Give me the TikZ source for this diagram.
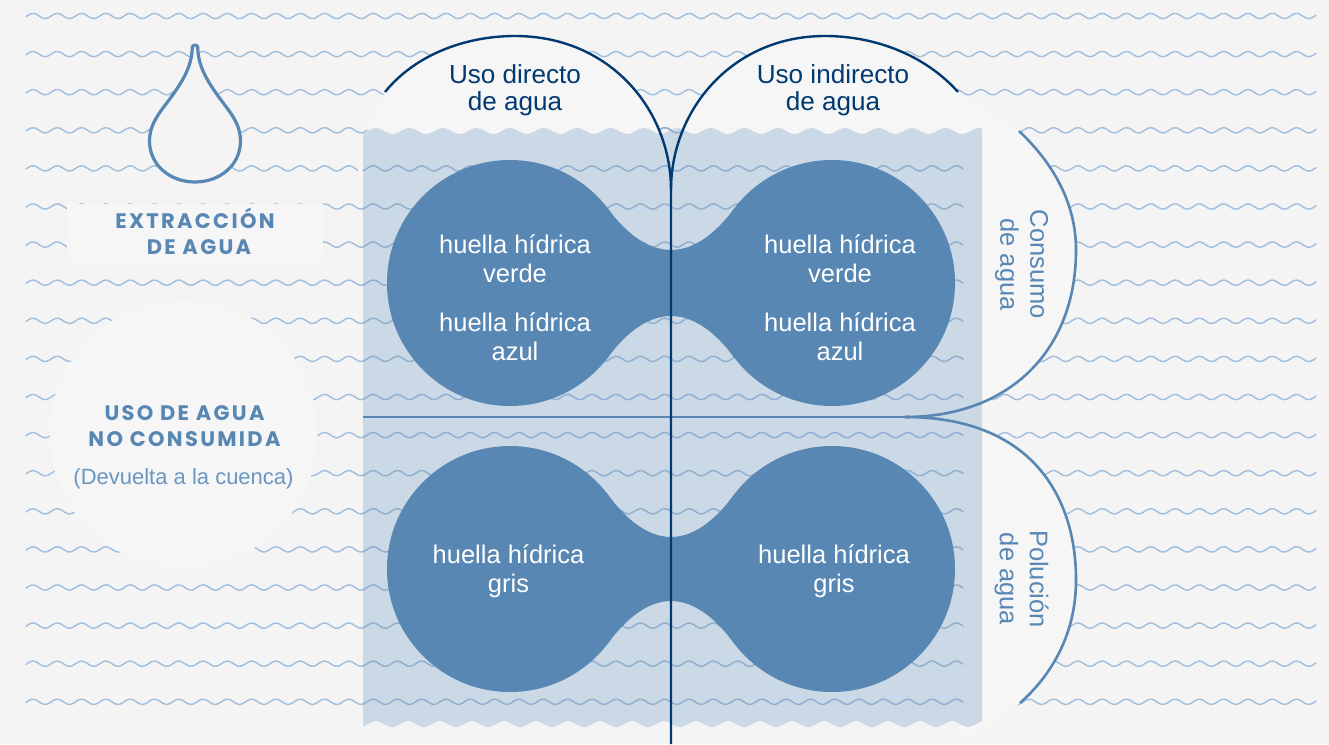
\documentclass[tikz,border=0pt]{standalone}
\usepackage{fontspec}
\setmainfont{Liberation Sans}
\newfontfamily\headfont[LetterSpace=11]{Poppins}
\definecolor{bgc}{HTML}{F4F4F4}
\definecolor{veil}{HTML}{F6F6F6}
\definecolor{wavec}{HTML}{A2BFDC}
\definecolor{wavein}{HTML}{8FB0D1}
\definecolor{pool}{HTML}{CBD8E5}
\definecolor{blob}{HTML}{5887B4}
\definecolor{navy}{HTML}{003A70}
\definecolor{soft}{HTML}{6A96C2}
\newcommand{\wavesrow}[4]{% color, y, from, to
  \draw[#1,line width=1.45pt,line cap=round] plot[domain=#3:#4,samples=\fpeval{round((#4-#3)/2)+2}]
    (\x,{#2-2.6*cos(14.815*(\x-664.8))});}
\newcommand{\dumbbell}[3]{% cy, neck half height, name
  \fill[blob] (510,#1) circle (123);
  \fill[blob] (832,#1) circle (123);
  \fill[blob] (606.9,#1-75.7) .. controls (623,#1-53.7) and (645,#1-#2) .. (671,#1-#2)
     .. controls (697,#1-#2) and (719,#1-53.7) .. (735.1,#1-75.7)
     -- (735.1,#1+75.7) .. controls (719,#1+53.7) and (697,#1+#2) .. (671,#1+#2)
     .. controls (645,#1+#2) and (623,#1+53.7) .. (606.9,#1+75.7) -- cycle;}
\tikzset{
  usotext/.style={text=navy,align=center,inner sep=0pt,font=\fontsize{26.1}{27}\selectfont},
  huella/.style={text=white,align=center,inner sep=0pt,font=\fontsize{25.5}{29.2}\selectfont},
  sidetext/.style={text=blob,align=center,inner sep=0pt,rotate=-90,font=\fontsize{25.5}{30}\selectfont},
  headtext/.style={text=blob,align=center,inner sep=0pt,font=\headfont\bfseries\fontsize{21}{26.5}\selectfont},
  subtext/.style={text=soft,inner sep=0pt,font=\fontsize{22}{26}\selectfont},
  archblue/.style={navy,line width=2.4pt},
  archlight/.style={blob,line width=2.6pt},
  crossline/.style={blob,line width=2pt}
}
\begin{document}
\begin{tikzpicture}[x=1pt,y=-1pt]
\useasboundingbox (0,0) rectangle (1329,744);
\fill[bgc] (0,0) rectangle (1329,744);
% background waves
\foreach \k in {0,...,18}{
  \pgfmathsetmacro\yy{16+38.1*\k}
  \wavesrow{wavec}{\yy}{26}{1316}
}
% veils hiding waves
\fill[veil] (358,150) -- (385,92) .. controls (415,55) and (465,36) .. (515,36)
   .. controls (610,36) and (671,110) .. (671,190) -- (358,190) -- cycle;
\fill[veil] (671,190) .. controls (671,110) and (732,36) .. (825,36)
   .. controls (875,36) and (925,55) .. (958,92) -- (1019,131) -- (1019,190) -- cycle;
\fill[veil] (960,125) -- (1019,131) .. controls (1055,165) and (1076,205) .. (1076,250)
   .. controls (1076,350) and (1010,417) .. (905,417)
   .. controls (1030,417) and (1076,495) .. (1076,580)
   .. controls (1076,630) and (1055,672) .. (1020,703) -- (975,735) -- (960,735) -- cycle;
\fill[veil] (183.5,434) circle (134);
\fill[veil] (67,204) rectangle (323,262);
% pool with wavy top and bottom
\fill[pool] plot[domain=363:982,samples=200] (\x,{131-3*cos(10.746*(\x-577))})
   -- plot[domain=982:363,samples=200] (\x,{724-3*cos(11.25*(\x-888))}) -- cycle;
% waves inside the pool
\foreach \k in {4,...,18}{
  \pgfmathsetmacro\yy{16+38.1*\k}
  \wavesrow{wavein}{\yy}{363}{963}
}
\pgfmathsetmacro\yy{16+38.1*3}
\wavesrow{wavein}{\yy}{661}{681}
% blobs
\dumbbell{283}{33}{top}
\dumbbell{569}{32}{bottom}
% lines
\draw[crossline] (363,417) -- (905,417);
\draw[archlight] (1019,131) .. controls (1055,165) and (1076,205) .. (1076,250)
   .. controls (1076,350) and (1010,417) .. (905,417);
\draw[archlight] (905,417) .. controls (1030,417) and (1076,495) .. (1076,580)
   .. controls (1076,630) and (1055,672) .. (1020,703);
\draw[archblue] (385,92) .. controls (415,55) and (465,36) .. (515,36)
   .. controls (610,36) and (671,110) .. (671,190) -- (671,744);
\draw[archblue] (958,92) .. controls (925,55) and (875,36) .. (825,36)
   .. controls (732,36) and (671,110) .. (671,190);
% drop
\draw[blob,line width=3.2pt,fill=bgc,line join=round] (192.3,47)
   .. controls (192,68) and (181,84) .. (166,104)
   .. controls (156,117) and (149.5,127) .. (149.5,141)
   .. controls (149.5,165) and (170,182) .. (195,182)
   .. controls (220,182) and (240.5,165) .. (240.5,141)
   .. controls (240.5,127) and (234,117) .. (224,104)
   .. controls (209,84) and (198,68) .. (197.7,47)
   .. controls (197.5,44.5) and (192.5,44.5) .. (192.3,47) -- cycle;
% text
\node[headtext] (ext) at (195,231.5) {EXTRACCIÓN\\\hspace*{8pt}DE AGUA};
\node[headtext] (uso) at (184.5,426) {USO DE AGUA\\NO CONSUMIDA};
\node[subtext] (dev) at (183.5,478.5) {(Devuelta a la cuenca)};
\node[usotext] (ud) at (515,90.5) {Uso directo\\de agua};
\node[usotext] (ui) at (833,90.5) {Uso indirecto\\de agua};
\node[huella] (h1) at (515,258.7) {huella hídrica\\verde};
\node[huella] (h2) at (515,337) {huella hídrica\\azul};
\node[huella] (h3) at (840,258.7) {huella hídrica\\verde};
\node[huella] (h4) at (840,337) {huella hídrica\\azul};
\node[huella] (h5) at (508.5,571) {huella hídrica\\gris};
\node[huella] (h6) at (834,571) {huella hídrica\\gris};
\node[sidetext] (con) at (1021.5,264.5) {Consumo\\de agua};
\node[sidetext] (pol) at (1021.5,579) {Polución\\de agua};
\end{tikzpicture}
\end{document}
